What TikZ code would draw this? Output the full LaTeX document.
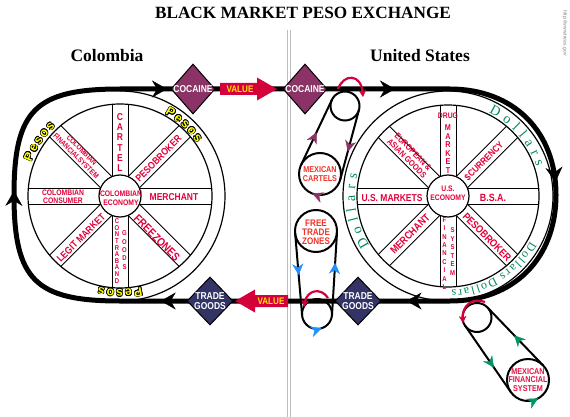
\documentclass[tikz,border=0pt]{standalone}
\usepackage{fontspec}
\setmainfont{Liberation Serif}
\newfontfamily\cond[FakeStretch=0.85]{Liberation Sans}
\newfontfamily\sansf{Liberation Sans}
\usepackage[copies]{contour}
\contourlength{0.6pt}
\contournumber{12}
\usetikzlibrary{arrows.meta,decorations.markings,shapes.geometric,calc}
\definecolor{spkred}{RGB}{226,0,58}
\definecolor{cocpurple}{RGB}{139,51,102}
\definecolor{tgnavy}{RGB}{51,51,102}
\definecolor{valred}{RGB}{212,0,58}
\definecolor{valyel}{RGB}{255,230,0}
\definecolor{dolgreen}{RGB}{0,140,90}
\definecolor{arrgreen}{RGB}{0,150,100}
\definecolor{arrblue}{RGB}{30,144,255}
\definecolor{loopred}{RGB}{240,50,40}
\definecolor{mfsred}{RGB}{226,20,70}
\definecolor{pesyel}{RGB}{255,255,0}
\definecolor{divgray}{RGB}{190,190,190}
\tikzset{
  BigTip/.tip={Stealth[length=15pt,width=17pt,inset=5pt,line width=0.4pt]},
  PurTip/.tip={Stealth[length=11pt,width=11pt,inset=3.5pt,line width=0.4pt,color=cocpurple]},
  BluTip/.tip={Stealth[length=11pt,width=11pt,inset=3.5pt,line width=0.4pt,color=arrblue]},
  GrnTip/.tip={Stealth[length=11pt,width=11pt,inset=3.5pt,line width=0.4pt,color=arrgreen]},
  RedTip/.tip={Stealth[length=7pt,width=7.5pt,inset=2pt,line width=0.4pt,color=valred]},
}
\newcommand{\pesout}[1]{\contour{black}{#1}}
\newcommand{\plainw}[1]{#1}
% letters set one by one along a circle, read clockwise, tops outward
% #1 centre, #2 mid angle, #3 baseline radius, #4 style, #5 letter/offset list macro,
% #6 total length, #7 name prefix, #8 wrapper
\newcommand{\arcword}[8]{%
  \foreach \ch/\off [count=\k] in #5 {%
    \pgfmathsetmacro{\ang}{#2-(\off-#6/2)/(#3+4)*57.29578}%
    \node[#4, anchor=base, rotate=\ang-90] (#7\k) at ($(#1)+({-\ang}:#3)$) {#8{\ch}};
  }}
\newcommand{\dolbig}{D/5.05, o/19.6, l/31.05, l/40.95, a/52.0, r/63.45, s/74.5}
\newcommand{\dolsmall}{D/4.33, o/13.66, l/20.33, l/25.67, a/32.0, r/38.67, s/45.0}
\newcommand{\pesword}{P/4.17, e/13.8, s/22.8, o/32.1, s/41.35}
\begin{document}
\begin{tikzpicture}[x=1pt,y=-1pt,
  track/.style={line width=5pt, line join=round},
  ringln/.style={line width=1.2pt},
  spokeln/.style={line width=0.9pt},
  belt/.style={line width=2pt},
  redarc/.style={line width=2.2pt, draw=valred, -{RedTip}},
  mk/.style 2 args={postaction={decorate, decoration={markings, mark=at position #1 with {\arrow{#2}}}}},
  mkr/.style 2 args={postaction={decorate, decoration={markings, mark=at position #1 with {\arrowreversed{#2}}}}},
  spk/.style 2 args={font={\cond\bfseries\fontsize{#1}{#2}\selectfont}, text=spkred, inner sep=0pt, align=center},
  looptxt/.style 2 args={font={\cond\bfseries\fontsize{#1}{#2}\selectfont}, text=loopred, inner sep=0pt, align=center},
  cocd/.style={shape=diamond, draw=black, line width=1pt, fill=cocpurple, minimum width=44pt, minimum height=50pt, inner sep=0pt},
  tgd/.style={cocd, fill=tgnavy, minimum width=46pt, minimum height=48pt},
  dtext/.style={font={\cond\bfseries\fontsize{10}{9.5}\selectfont}, text=white, inner sep=0pt, align=center},
  valtext/.style={font={\cond\bfseries\fontsize{9.5}{9.5}\selectfont}, text=valyel, inner sep=0pt},
  pes/.style={font={\sansf\bfseries\fontsize{12.5}{12.5}\selectfont}, text=pesyel, inner sep=0pt},
  dol/.style={font={\fontsize{14}{14}\selectfont}, text=dolgreen, inner sep=0pt},
  dols/.style={font={\fontsize{12}{12}\selectfont}, text=dolgreen, inner sep=0pt},
  head/.style={font={\bfseries\fontsize{17.5}{17.5}\selectfont}, inner sep=0pt},
]
\useasboundingbox (0,0) rectangle (570,417);
\fill[white] (0,0) rectangle (570,417);

% titles
\node[head, font={\bfseries\fontsize{17.2}{17.2}\selectfont}] (title) at (303,13) {BLACK MARKET PESO EXCHANGE};
\node[head] (colombia) at (107,56) {Colombia};
\node[head] (usa) at (420,56) {United States};
\node[font={\sansf\fontsize{5}{5}\selectfont}, text=gray, rotate=-90, inner sep=0pt] (url) at (565,33) {http://www.treas.gov};

% divider
\draw[divgray, line width=0.8pt] (287.5,30) -- (287.5,417) (290.5,30) -- (290.5,417);

% centres
\coordinate (Lc) at (120,196);
\coordinate (Rc) at (448,196);
\coordinate (Ltop) at (120,89);
\coordinate (Rtop) at (450,89);
\coordinate (Rmid) at (556,195);
\coordinate (Rbot) at (450,301);
\coordinate (Lbot) at (120,301);
\coordinate (Lmid) at (14,195);

% wheels
\draw[ringln] (Lc) ++(0,-105) arc[start angle=-90, end angle=90, radius=105];
\draw[ringln] (Rc) circle[radius=105];
\foreach \c/\ri in {Lc/92, Rc/91} {
  \draw[ringln] (\c) circle[radius=\ri];
  \begin{scope}[shift={(\c)}]
    \foreach \a in {0,45,90,135} {
      \draw[spokeln, rotate=\a] (19.4,8) -- (\ri-0.4,8) (19.4,-8) -- (\ri-0.4,-8)
        (-19.4,8) -- (-\ri+0.4,8) (-19.4,-8) -- (-\ri+0.4,-8);
    }
  \end{scope}
  \draw[ringln, fill=white] (\c) circle[radius=21];
}

% main track
\draw[track,
  mk={47pt}{BigTip}, mk={275pt}{BigTip}, mk={486pt}{BigTip},
  mk={711pt}{BigTip}, mk={-399pt}{BigTip}, mk={-175pt}{BigTip}]
  (Ltop) -- (Rtop) .. controls (513.6,89) and (556,131.4) .. (Rmid)
  .. controls (556,258.6) and (513.6,301) .. (Rbot) -- (Lbot)
  .. controls (35.2,301) and (14,279.8) .. (Lmid)
  .. controls (14,110.2) and (35.2,89) .. cycle;

% Colombian wheel texts
\node[spk={8}{8.5}] (Lhub) at (121,198) {COLOMBIAN\\ECONOMY};
\node[spk={10}{10.2}] (Lcartel) at (120,142.5) {C\\A\\R\\T\\E\\L};
\node[spk={10}{10}, rotate=45] (Lpb) at (158.5,158.5) {PESOBROKER};
\node[spk={10}{10}] (Lmer) at (174,197) {MERCHANT};
\node[spk={11.5}{11.5}, rotate=-45] (Lfz) at (157,238) {FREEZONES};
\node[spk={7}{6.6}] (Lcon) at (117,251) {C\\O\\N\\T\\R\\A\\B\\A\\N\\D};
\node[spk={7}{8.3}] (Lgoods) at (124.5,250) {G\\O\\O\\D\\S};
\node[spk={10}{10}, rotate=45] (Llegit) at (81,238) {LEGIT MARKET};
\node[spk={8}{8}] (Lcons) at (63,197) {COLOMBIAN\\CONSUMER};
\node[spk={7.5}{8}, rotate=-45] (Lfin) at (79,153) {COLOMBIAN\\FINANCIALSYSTEM};

% US wheel texts
\node[spk={8}{9}] (Rhub) at (448,193) {U.S.\\ECONOMY};
\node[spk={8}{8}] (Rdrug) at (448,116) {DRUG};
\node[spk={8.5}{8.5}] (Rmarket) at (448,149) {M\\A\\R\\K\\E\\T};
\node[spk={9.5}{9.5}, rotate=45] (Rcur) at (484,161) {\$CURRENCY};
\node[spk={10.5}{10.5}] (Rbsa) at (493,198) {B.S.A.};
\node[spk={10.5}{10.5}, rotate=-45] (Rpb) at (487,237) {PESOBROKER};
\node[spk={7}{8.4}] (Rfin) at (444.5,253.5) {F\\I\\N\\A\\N\\C\\I\\A\\L};
\node[spk={7}{8.6}] (Rsys) at (452.5,251.5) {S\\Y\\S\\T\\E\\M};
\node[spk={10.5}{10.5}, rotate=45] (Rmer) at (410,234) {MERCHANT};
\node[spk={10}{10}] (Rusm) at (392,198) {U.S. MARKETS};
\node[spk={8.5}{9}, rotate=-45] (Reu) at (410,155) {EUROPEAN \&\\ASIAN GOODS};

% ring words
\arcword{Lc}{146}{95}{pes}{\pesword}{44.8}{pesa}{\pesout}
\arcword{Lc}{48}{93.5}{pes}{\pesword}{44.8}{pesb}{\pesout}
\arcword{Lc}{-90}{93.5}{pes}{\pesword}{44.8}{pesc}{\pesout}
\arcword{Rc}{41}{93}{dol}{\dolbig}{77.2}{dola}{\plainw}
\arcword{Rc}{189.5}{93}{dol}{\dolbig}{77.2}{dolb}{\plainw}
\arcword{Rc}{-43}{94}{dols}{\dolsmall}{47.3}{dolc}{\plainw}
\arcword{Rc}{-74}{94}{dols}{\dolsmall}{47.3}{dold}{\plainw}

% loops: cocaine / Mexican cartels
\coordinate (A) at (345,106);
\coordinate (B) at (320,174);
\draw[belt] (A) circle[radius=14.5];
\draw[belt, mk={0.31}{PurTip}] (B) circle[radius=21];
\coordinate (A1) at (359.0,109.8);
\coordinate (B1) at (340.3,179.4);
\coordinate (A2) at (331.9,99.8);
\coordinate (B2) at (301.0,165.0);
\draw[belt, mk={0.6}{PurTip}] (A1) -- (B1);
\draw[belt, mk={0.5}{PurTip}] (B2) -- (A2);
\node[looptxt={8.5}{9}] (mexct) at (320,174) {MEXICAN\\CARTELS};
\coordinate (ra1s) at (338,89);
\coordinate (ra1e) at (363,97);
\draw[redarc] (ra1s) .. controls (344,73) and (361,74) .. (ra1e);

% loops: trade goods / free trade zones
\coordinate (C) at (316,231);
\coordinate (D) at (317,314);
\draw[belt] (C) circle[radius=21];
\draw[belt, mkr={0.2}{BluTip}] (D) circle[radius=15];
\coordinate (C1) at (295.1,232.8);
\coordinate (D1) at (302.1,315.3);
\coordinate (C2) at (337,232.3);
\coordinate (D2) at (332,314.9);
\draw[belt, mk={0.51}{BluTip}] (C1) -- (D1);
\draw[belt, mk={0.63}{BluTip}] (D2) -- (C2);
\node[looptxt={9.5}{9.2}] (ftzt) at (316,232) {FREE\\TRADE\\ZONES};

% loops: Mexican financial system
\coordinate (E) at (477,317.5);
\coordinate (F) at (528,380);
\draw[belt] (E) circle[radius=14.5];
\draw[belt, mkr={0.17}{GrnTip}] (F) circle[radius=21];
\coordinate (E1) at (465.1,325.7);
\coordinate (F1) at (510.7,391.9);
\coordinate (F2) at (543.2,365.5);
\coordinate (E2) at (487.5,307.5);
\draw[belt, mk={0.63}{GrnTip}] (E1) -- (F1);
\draw[belt, mk={0.52}{GrnTip}] (F2) -- (E2);
\node[looptxt={8.5}{8.8}, text=mfsred] (mfst) at (528,380) {MEXICAN\\FINANCIAL\\SYSTEM};

% VALUE arrows
\fill[valred] (220,83) -- (257,83) -- (257,77.5) -- (277,89) -- (257,100.5) -- (257,95) -- (220,95) -- cycle;
\node[valtext] (val1) at (240,89.5) {VALUE};
\fill[valred] (288,295) -- (255,295) -- (255,289.5) -- (235,301) -- (255,312.5) -- (255,307) -- (288,307) -- cycle;
\node[valtext] (val2) at (271,301.5) {VALUE};

% diamonds
\node[cocd] (cocL) at (193,89) {};
\node[dtext] (cocLt) at (cocL) {COCAINE};
\node[cocd] (cocR) at (305,89) {};
\node[dtext] (cocRt) at (cocR) {COCAINE};
\node[tgd] (tgL) at (210,301) {};
\node[dtext] (tgLt) at (tgL) {TRADE\\GOODS};
\node[tgd] (tgR) at (358,301) {};
\node[dtext] (tgRt) at (tgR) {TRADE\\GOODS};

% red arcs onto loops
\coordinate (ra2s) at (328,298);
\coordinate (ra2e) at (304,307);
\draw[redarc] (ra2s) .. controls (321,287) and (307,290) .. (ra2e);
\coordinate (ra3s) at (485,302);
\coordinate (ra3e) at (463,323);
\draw[redarc] (ra3s) .. controls (472,297) and (462,306) .. (ra3e);
\end{tikzpicture}
\end{document}
